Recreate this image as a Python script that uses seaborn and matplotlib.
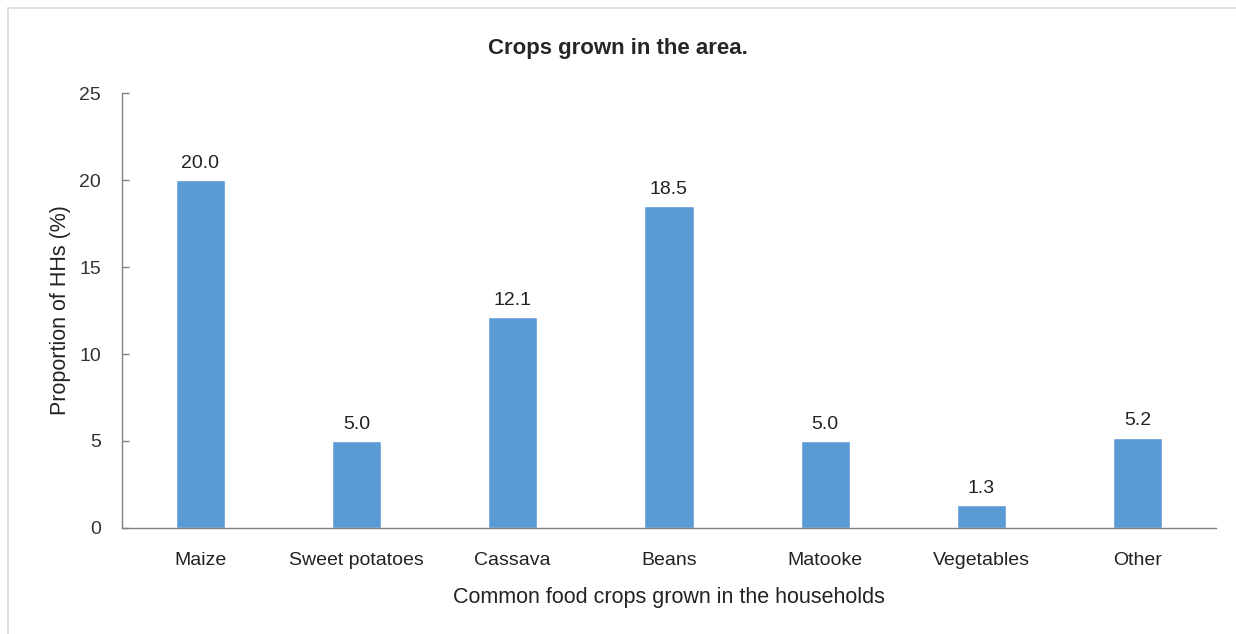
import matplotlib
matplotlib.use('Agg')
import matplotlib.pyplot as plt
import numpy as np
import pandas as pd
import seaborn as sns
from matplotlib.lines import Line2D

crops = ['Maize', 'Sweet potatoes', 'Cassava', 'Beans', 'Matooke', 'Vegetables', 'Other']
proportions = [20.0, 5.0, 12.1, 18.5, 5.0, 1.3, 5.2]
y_ticks = [0, 5, 10, 15, 20, 25]

sns.set_style('white')
plt.rcParams['font.family'] = ['Liberation Sans', 'DejaVu Sans']

data = pd.DataFrame({'crop': crops, 'proportion': proportions})

fig = plt.figure(figsize=(12.36, 6.34), dpi=100)
ax = fig.add_axes([0.0987, 0.1672, 0.8851, 0.6861])

sns.barplot(data=data, x='crop', y='proportion', color='#5B9BD5', saturation=1,
            width=0.315, ax=ax)

for container in ax.containers:
    ax.bar_label(container, fmt='%.1f', padding=6, fontsize=14, color='#222222')

ax.set_xlim(-0.5, len(crops) - 0.5)
ax.set_ylim(0, 25)
ax.set_yticks(y_ticks)
ax.set_yticklabels([str(t) for t in y_ticks], fontsize=14, color='#333333')
ax.set_xticks(np.arange(-0.5, len(crops)), minor=True)
ax.tick_params(axis='x', which='major', length=0, pad=17, labelsize=14, labelcolor='#222222')
ax.tick_params(axis='x', which='minor', direction='in', length=5, width=1, color='#808080')
ax.tick_params(axis='y', direction='in', length=5, width=1, color='#808080', pad=15, left=True)

for side in ['top', 'right']:
    ax.spines[side].set_visible(False)
for side in ['left', 'bottom']:
    ax.spines[side].set_color('#808080')
    ax.spines[side].set_linewidth(1)

ax.set_xlabel('Common food crops grown in the households', fontsize=15.5, color='#222222', labelpad=13)
ax.set_ylabel('Proportion of HHs (%)', fontsize=15.5, color='#222222', labelpad=6)
fig.suptitle('Crops grown in the area.', fontsize=16, fontweight='bold', y=0.94)

# light frame around the chart area (left and top edges visible)
fig.add_artist(Line2D([8 / 1236, 8 / 1236], [0, 1 - 8 / 634], color='#d9d9d9', lw=1.2))
fig.add_artist(Line2D([8 / 1236, 1], [1 - 8 / 634, 1 - 8 / 634], color='#d9d9d9', lw=1.2))

fig.savefig('out.png', dpi=100)
